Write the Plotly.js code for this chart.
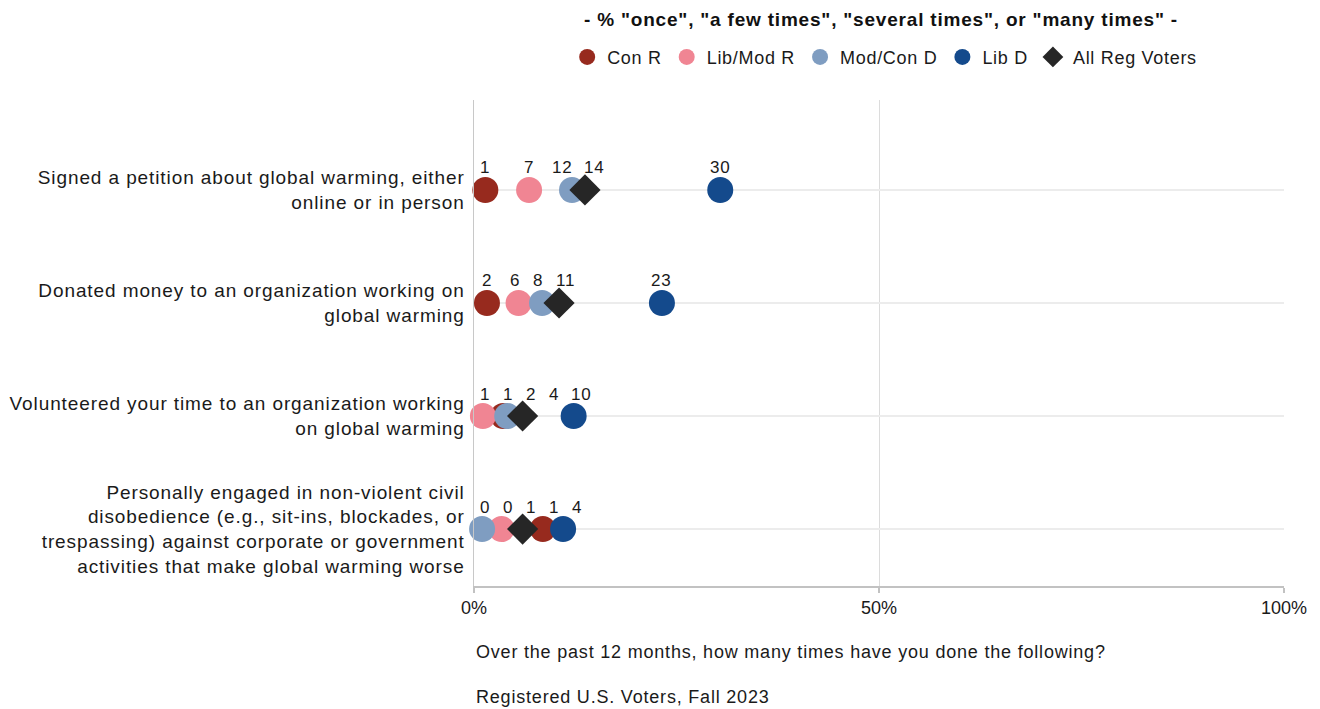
<!DOCTYPE html>
<html>
<head>
<meta charset="utf-8">
<script src="https://cdn.plot.ly/plotly-3.0.1.min.js"></script>
<style>
html,body{margin:0;padding:0;background:#fff;}
#chart{width:1320px;height:709px;}
.ytick text{letter-spacing:0.9px;}
.annotation-text{letter-spacing:0.8px;}
.legendtext{letter-spacing:0.7px;}
</style>
</head>
<body>
<div id="chart"></div>
<script>
// ---- Data ----
var categories = [
  "Signed a petition about global warming, either<br>online or in person",
  "Donated money to an organization working on<br>global warming",
  "Volunteered your time to an organization working<br>on global warming",
  "Personally engaged in non-violent civil<br>disobedience (e.g., sit-ins, blockades, or<br>trespassing) against corporate or government<br>activities that make global warming worse"
];
var groupNames = ["Con R", "Lib/Mod R", "Mod/Con D", "Lib D", "All Reg Voters"];

// reported percentages (label values)
var conR      = [1, 2, 1, 1];
var libModR   = [7, 6, 1, 0];
var modConD   = [12, 8, 2, 0];
var libD      = [30, 23, 10, 4];
var allVoters = [14, 11, 4, 1];

// plotted (dodged) percentages
var conRPlot      = [1.4, 1.6, 3.6, 8.5];
var libModRPlot   = [6.8, 5.5, 1.1, 3.4];
var modConDPlot   = [12.1, 8.4, 4.1, 1.0];
var libDPlot      = [30.4, 23.2, 12.3, 11.0];
var allVotersPlot = [13.7, 10.5, 6.0, 6.0];

var xTickVals = [0, 50, 100];
var subtitle = '- % "once", "a few times", "several times", or "many times" -';
var note1 = "Over the past 12 months, how many times have you done the following?";
var note2 = "Registered U.S. Voters, Fall 2023";

// ---- Build ----
var FONT = "Liberation Sans, Arial, Helvetica, sans-serif";
var colors = ["#972A1E", "#F08593", "#7F9DC1", "#144A8C", "#262626"];
var symbols = ["circle", "circle", "circle", "circle", "diamond"];
var sizes = [26, 26, 26, 26, 24];
var values = [conR, libModR, modConD, libD, allVoters];
var plotted = [conRPlot, libModRPlot, modConDPlot, libDPlot, allVotersPlot];
var nCat = categories.length;
var rowY = categories.map(function(c, i){ return nCat - 1 - i; });

var traces = groupNames.map(function(name, g){
  return {
    type: "scatter", mode: "markers", name: name,
    x: plotted[g], y: rowY,
    text: values[g].map(String),
    hovertemplate: "%{text}%<extra>" + name + "</extra>",
    cliponaxis: false,
    marker: {color: colors[g], symbol: symbols[g], size: sizes[g], line: {width: 0}}
  };
});

// label placement: simple 1D repel above each row
var plotWidthPx = 810, pxPerUnit = plotWidthPx / 100;
var digitPx = 9.45, padPx = 13.5, labelMin = 1.4;
var annotations = [];
for (var r = 0; r < nCat; r++) {
  var items = [];
  for (var g = 0; g < groupNames.length; g++) {
    var t = String(values[g][r]);
    items.push({text: t, pos: plotted[g][r], w: t.length * digitPx, x: plotted[g][r]});
  }
  items.sort(function(a, b){ return a.pos - b.pos; });
  for (var it = 0; it < 300; it++) {
    for (var i = 0; i < items.length - 1; i++) {
      var need = ((items[i].w + items[i+1].w) / 2 + padPx) / pxPerUnit;
      var d = items[i+1].x - items[i].x;
      if (d < need) {
        var s = (need - d) / 2;
        items[i].x -= s; items[i+1].x += s;
      }
    }
    if (items[0].x < labelMin) items[0].x = labelMin;
  }
  items.forEach(function(o){
    annotations.push({
      x: o.x, y: rowY[r], xref: "x", yref: "y", text: o.text, showarrow: false,
      yshift: 22, xanchor: "center", yanchor: "middle",
      font: {family: FONT, size: 17, color: "#1a1a1a"}
    });
  });
}

annotations.push({
  x: 0.502, y: 1.165, xref: "paper", yref: "paper", text: "<b>" + subtitle + "</b>",
  showarrow: false, xanchor: "center", yanchor: "middle",
  font: {family: FONT, size: 19, color: "#111"}
});
annotations.push({
  x: 0, y: -0.136, xref: "paper", yref: "paper", text: note1, showarrow: false,
  xanchor: "left", yanchor: "middle", font: {family: FONT, size: 18, color: "#1a1a1a"}
});
annotations.push({
  x: 0, y: -0.228, xref: "paper", yref: "paper", text: note2, showarrow: false,
  xanchor: "left", yanchor: "middle", font: {family: FONT, size: 18, color: "#1a1a1a"}
});

var layout = {
  width: 1320, height: 709,
  margin: {l: 474, r: 36, t: 100, b: 123},
  paper_bgcolor: "#fff", plot_bgcolor: "#fff",
  font: {family: FONT, size: 18, color: "#1a1a1a"},
  showlegend: true,
  legend: {
    orientation: "h", x: 0.507, y: 1.088, xanchor: "center", yanchor: "middle",
    font: {family: FONT, size: 18, color: "#1a1a1a"}, itemsizing: "trace",
    tracegroupgap: 0, itemwidth: 30
  },
  xaxis: {
    range: [0, 100], tickvals: xTickVals, ticktext: xTickVals.map(function(v){ return v + "%"; }),
    showgrid: false, zeroline: false,
    showline: true, linecolor: "#c2c2c2", linewidth: 1.5,
    ticks: "outside", ticklen: 5, tickcolor: "#c2c2c2", tickwidth: 1.5,
    tickfont: {family: FONT, size: 18, color: "#1a1a1a"},
    minor: {tickvals: [50], showgrid: true, gridcolor: "#dcdcdc", gridwidth: 1, ticks: ""},
    fixedrange: true
  },
  yaxis: {
    range: [-0.504, 3.796], tickvals: rowY, ticktext: categories,
    showgrid: true, gridcolor: "#ececec", gridwidth: 1.5, zeroline: false,
    showline: true, linecolor: "#c8c8c8", linewidth: 1.5,
    ticks: "", ticklabelstandoff: 4,
    tickfont: {family: FONT, size: 19, color: "#1a1a1a"},
    fixedrange: true
  },
  annotations: annotations
};

Plotly.newPlot("chart", traces, layout, {displayModeBar: false, staticPlot: true});
</script>
</body>
</html>
